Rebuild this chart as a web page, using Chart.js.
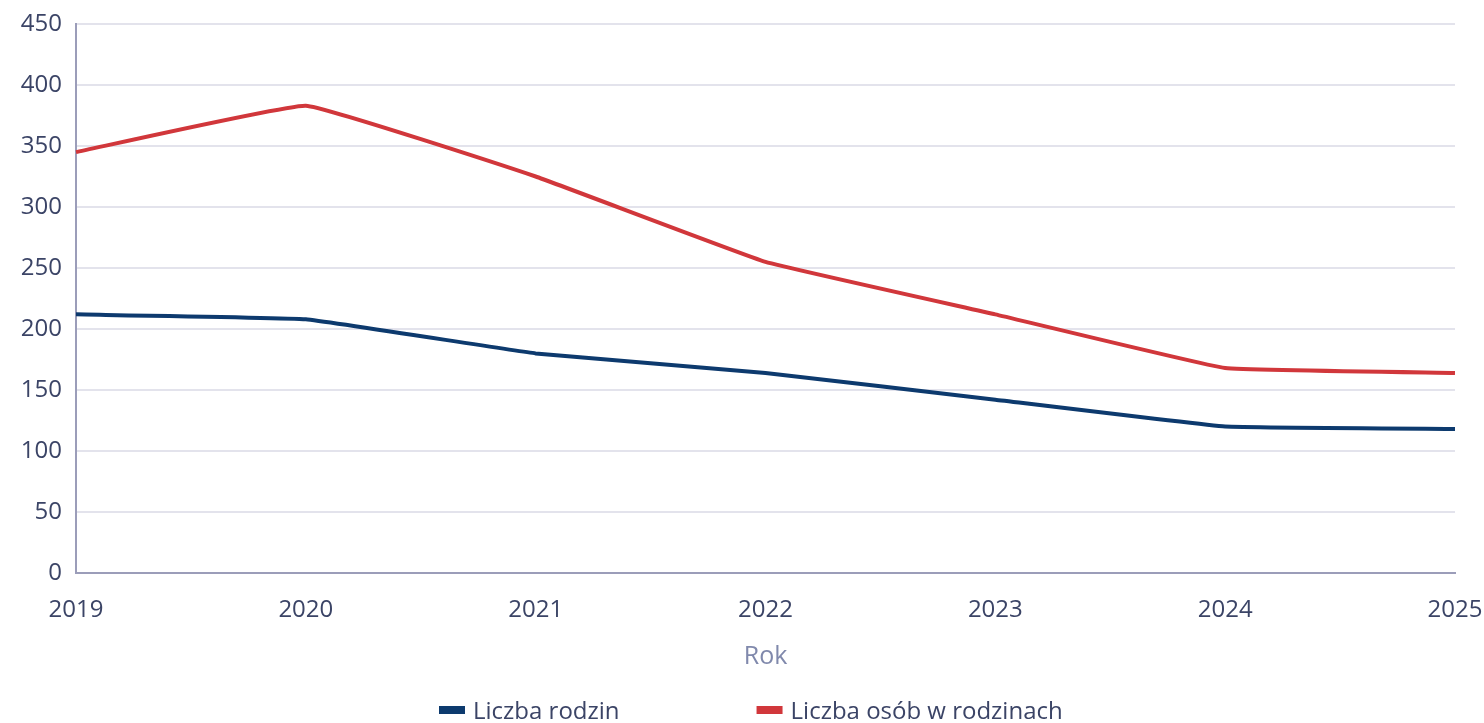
<!DOCTYPE html>
<html>
<head>
<meta charset="utf-8">
<script src="https://cdn.jsdelivr.net/npm/chart.js@4/dist/chart.umd.min.js"></script>
<style>
  html, body { margin: 0; padding: 0; background: #ffffff; }
  #wrap { position: relative; width: 1484px; height: 723px; }
</style>
</head>
<body>
<div id="wrap"><canvas id="c"></canvas></div>
<script>
const years = ['2019', '2020', '2021', '2022', '2023', '2024', '2025'];
const liczbaRodzin = [212, 208, 180, 164, 142, 120, 118];
const liczbaOsob = [345, 383, 325, 255, 212, 168, 164];
const seriesLabels = ['Liczba rodzin', 'Liczba osób w rodzinach'];
const axisTitle = 'Rok';

const FONT = "'Open Sans', 'DejaVu Sans', sans-serif";
const BLUE = '#0d3a6e';
const RED = '#d1373b';
const TICK = '#3b4466';

const customLegend = {
  id: 'customLegend',
  afterDraw(chart) {
    const ctx = chart.ctx;
    ctx.save();
    ctx.font = '24px ' + FONT;
    ctx.textBaseline = 'middle';
    ctx.textAlign = 'left';
    let x = 439;
    const y = 712;
    chart.data.datasets.forEach((ds) => {
      ctx.fillStyle = ds.borderColor;
      ctx.fillRect(x, y - 6, 26, 8);
      ctx.fillStyle = TICK;
      ctx.fillText(ds.label, x + 34, y);
      x += 34 + ctx.measureText(ds.label).width + 137;
    });
    ctx.restore();
  }
};

new Chart(document.getElementById('c'), {
  type: 'line',
  data: {
    labels: years,
    datasets: [
      { label: seriesLabels[0], data: liczbaRodzin, borderColor: BLUE, backgroundColor: BLUE,
        borderWidth: 4, pointRadius: 0, tension: 0.08, fill: false },
      { label: seriesLabels[1], data: liczbaOsob, borderColor: RED, backgroundColor: RED,
        borderWidth: 4, pointRadius: 0, tension: 0.08, fill: false }
    ]
  },
  options: {
    responsive: true,
    maintainAspectRatio: false,
    animation: false,
    devicePixelRatio: 1,
    layout: { padding: { top: 24, right: 29, bottom: 39, left: 0 } },
    plugins: {
      legend: { display: false },
      tooltip: { enabled: false }
    },
    scales: {
      x: {
        grid: { display: false, drawTicks: false },
        border: { display: true, color: '#9b9db9', width: 2 },
        ticks: { color: TICK, font: { family: FONT, size: 24 }, padding: 23, maxRotation: 0 },
        title: { display: true, text: axisTitle, color: '#8089ac', font: { family: FONT, size: 25 },
                 padding: { top: 4, bottom: 12 } },
        afterFit(scale) { scale.height = 111; scale.paddingLeft = 0; scale.paddingRight = 0; }
      },
      y: {
        min: 0, max: 450,
        ticks: { stepSize: 50, color: TICK, font: { family: FONT, size: 24 }, padding: 14 },
        grid: { color: '#e3e3ec', lineWidth: 2, drawTicks: false },
        border: { display: true, color: '#9b9db9', width: 2 },
        afterFit(scale) { scale.width = 76; scale.paddingTop = 0; scale.paddingBottom = 0; }
      }
    }
  },
  plugins: [customLegend]
});
</script>
</body>
</html>
